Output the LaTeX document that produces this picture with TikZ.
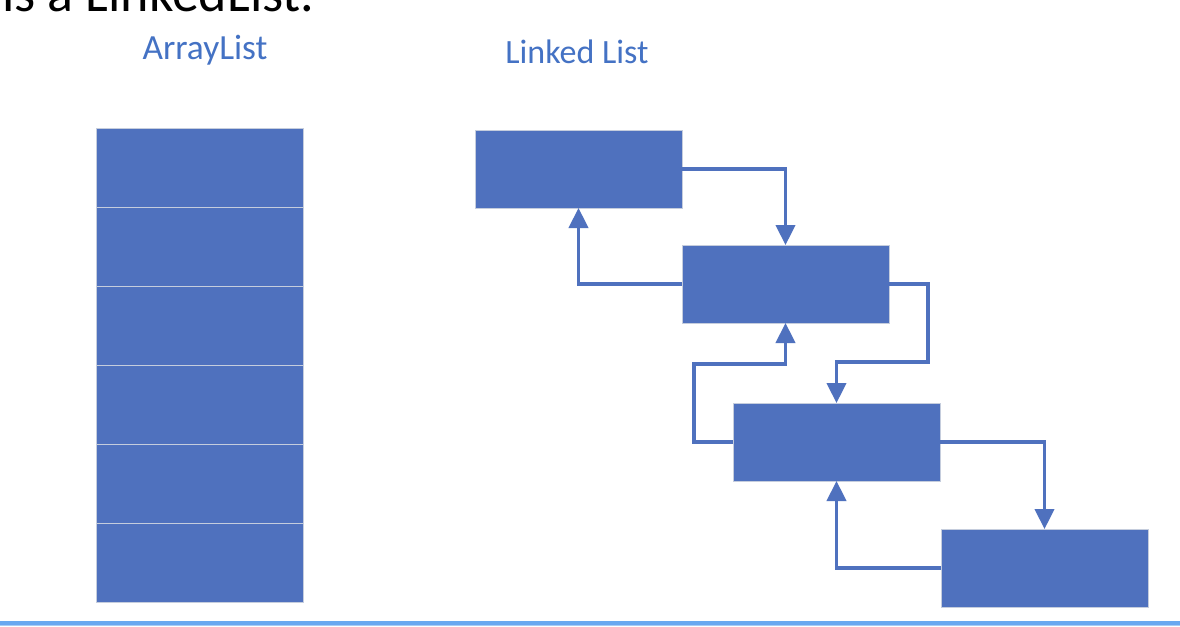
\documentclass[tikz,border=0pt]{standalone}
\usepackage{fontspec}
\setmainfont{Carlito}
\usetikzlibrary{arrows.meta}
\definecolor{boxfill}{HTML}{4F71BE}
\definecolor{boxedge}{HTML}{C5CDDD}
\definecolor{labelblue}{HTML}{4472C4}
\definecolor{rulecol}{HTML}{6AA8F0}
\definecolor{rulelight}{HTML}{A9CBF5}
\tikzset{
  cell/.style={draw=boxedge, line width=0.6pt, fill=boxfill, minimum width=207*0.75pt, minimum height=79*0.75pt, inner sep=0pt, outer sep=0pt},
  llbox/.style={draw=boxedge, line width=0.6pt, fill=boxfill, minimum width=207*0.75pt, minimum height=78*0.75pt, inner sep=0pt, outer sep=0pt},
  link/.style={draw=boxfill, line width=2.3pt, -{Triangle[width=14.5pt,length=15pt]}},
  title/.style={text=labelblue, anchor=base, inner sep=0pt}
}
\begin{document}
\begin{tikzpicture}[x=0.75pt,y=-0.75pt]
\useasboundingbox (0,0) rectangle (1180,626);
\fill[white] (0,0) rectangle (1180,626);
% cropped heading at the top
\begin{scope}
\clip (0,0) rectangle (1180,626);
\node[anchor=base east, inner sep=0pt, font=\fontsize{40.5}{48}\selectfont] (head) at (315,11) {is a LinkedList.};
\end{scope}
% titles
\node[title, font=\fontsize{26.5}{31}\selectfont] (tarr) at (205,59) {ArrayList};
\node[title, font=\fontsize{25.5}{30}\selectfont] (tll) at (577,63) {Linked List};
% array list cells
\foreach \i in {0,...,5} {
  \node[cell] (a\i) at (199.5,{167.5+79*\i}) {};
}
% linked list boxes
\node[llbox] (b1) at (578.5,169) {};
\node[llbox] (b2) at (785.5,284) {};
\node[llbox] (b3) at (836.5,442) {};
\node[llbox] (b4) at (1044.5,568) {};
% corner points
\coordinate (c1) at (928,284);
\coordinate (c2) at (928,362);
\coordinate (c3) at (694,442);
\coordinate (c4) at (694,364);
% links
\draw[link] (b1.east) -| (b2.north);
\draw[link] (b2.west) -| (b1.south);
\draw[link] (b2.east) -- (c1) -- (c2) -| (b3.north);
\draw[link] (b3.west) -- (c3) -- (c4) -| (b2.south);
\draw[link] (b3.east) -| (b4.north);
\draw[link] (b4.west) -| (b3.south);
% bottom rule
\fill[rulecol] (0,621) rectangle (1180,625.3);
\fill[rulelight] (0,625.3) rectangle (1180,626);
\end{tikzpicture}
\end{document}
